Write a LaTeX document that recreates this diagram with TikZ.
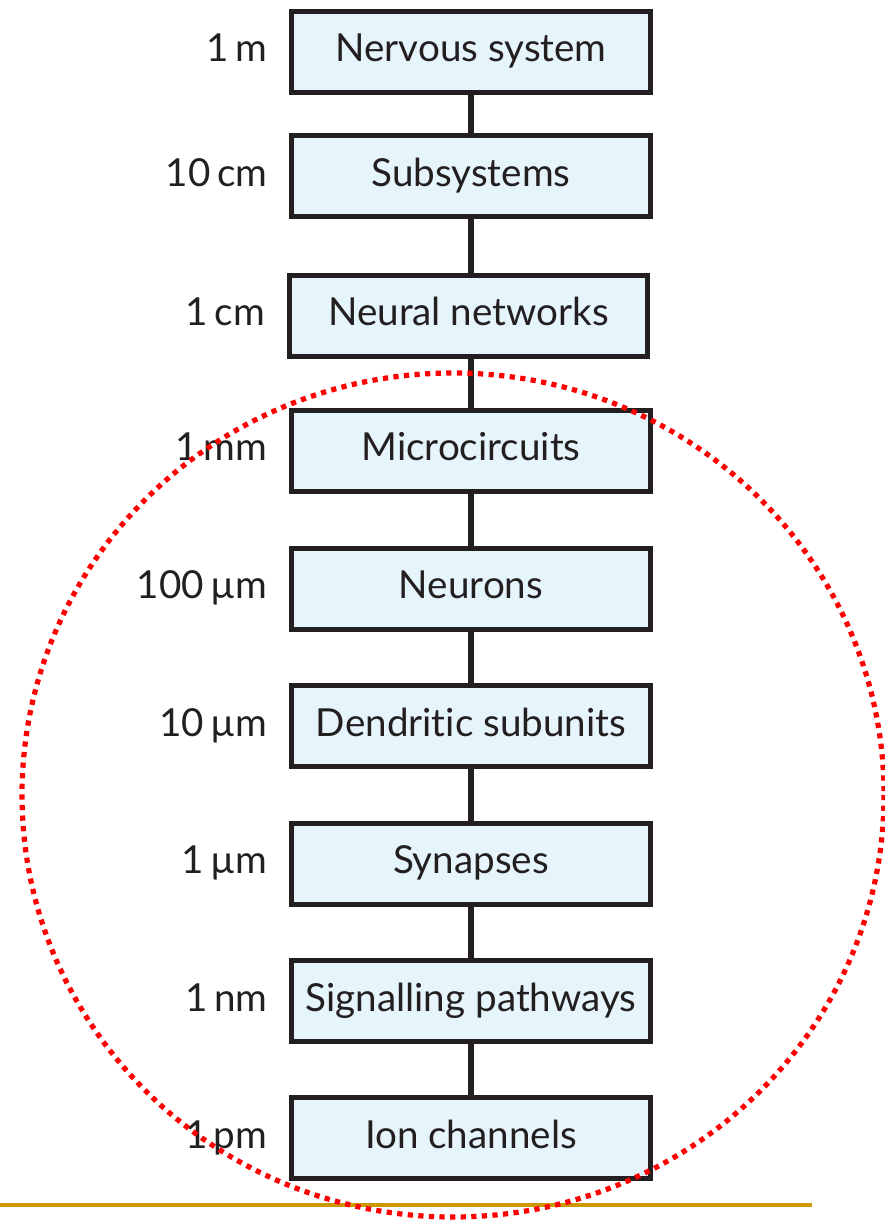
\documentclass[tikz,border=0pt]{standalone}
\usepackage{fontspec}
\setmainfont{Lato}[Ligatures=NoCommon]
\definecolor{boxfill}{RGB}{230,244,252}
\definecolor{ink}{RGB}{35,31,32}
\definecolor{dotred}{RGB}{255,0,0}
\definecolor{gold}{RGB}{204,153,0}
\tikzset{
  level/.style={draw=ink, fill=boxfill, line width=2.35pt, minimum width=179.3pt,
    minimum height=40.5pt, inner sep=0pt, text=ink,
    font=\fontsize{19.3}{24}\selectfont, text height=14pt, text depth=4.2pt},
  scalelabel/.style={anchor=base east, text=ink, inner sep=0pt, font=\fontsize{19.3}{24}\selectfont},
  link/.style={draw=ink, line width=2.7pt},
  ring/.style={draw=dotred, line width=2.6pt, dash pattern=on 2.6pt off 2.7pt},
  rule/.style={draw=gold, line width=1.7pt}
}
\begin{document}
\begin{tikzpicture}[x=0.5pt,y=-0.5pt]
\useasboundingbox (0,0) rectangle (884,1220);
\node[level] (b1) at (471,52.2) {Nervous system};
\node[level] (b2) at (471,176.3) {Subsystems};
\node[level] (b3) at (468.5,315.7) {Neural networks};
\node[level] (b4) at (471,450.8) {Microcircuits};
\node[level] (b5) at (471,588.7) {Neurons};
\node[level] (b6) at (471,726.3) {Dendritic subunits};
\node[level] (b7) at (471,863.7) {Synapses};
\node[level] (b8) at (471,1001.2) {Signalling pathways};
\node[level] (b9) at (471,1138.3) {Ion channels};
\foreach \i/\t in {1/1\,m, 2/10\,cm, 3/1\,cm, 4/1\,mm, 5/100\,µm, 6/10\,µm, 7/1\,µm, 8/1\,nm, 9/1\,pm}
  \node[scalelabel] (l\i) at ([xshift=-10.8pt]b\i.base west) {\t};
\draw[link] (b1.south) -- (b2.north);
\draw[link] (b2.south) -- (b2.south |- b3.north);
\draw[link] (b3.south -| b4.north) -- (b4.north);
\foreach \a/\b in {4/5,5/6,6/7,7/8,8/9}
  \draw[link] (b\a.south) -- (b\b.north);
\coordinate (ruleL) at (0,1205);
\coordinate (ruleR) at (812,1205);
\draw[rule] (ruleL) -- (ruleR);
\coordinate (ringC) at (453,795);
\draw[ring] (ringC) ellipse [x radius=431, y radius=422];
\end{tikzpicture}
\end{document}
